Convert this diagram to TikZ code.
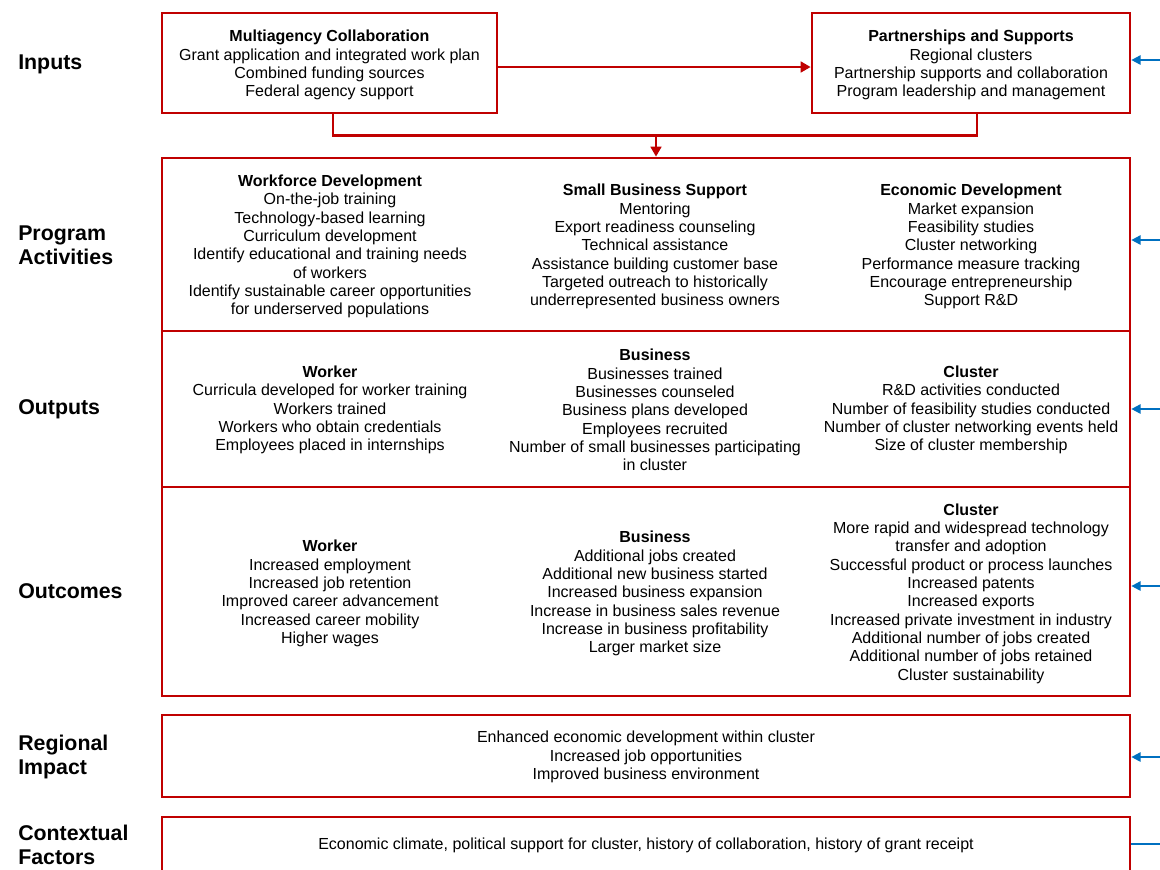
\documentclass[tikz,border=0pt]{standalone}
\usepackage{fontspec}
\setmainfont{Liberation Sans}
\usetikzlibrary{arrows.meta}
\definecolor{boxred}{RGB}{192,0,0}
\definecolor{arrblue}{RGB}{0,112,192}
\tikzset{
  box/.style={draw=boxred, line width=2pt, fill=white, inner sep=0pt},
  txt/.style={align=center, font=\fontsize{12}{13.75}\selectfont, inner sep=0pt, yshift=-1.6pt},
  lbl/.style={anchor=west, align=left, font=\fontsize{16}{18}\selectfont\bfseries, inner sep=0pt, yshift=-1.2pt},
  redarrow/.style={draw=boxred, line width=2pt, -{Triangle[length=7.5pt,width=8pt]}},
  redline/.style={draw=boxred, line width=2pt},
  bluearrow/.style={draw=arrblue, line width=1.4pt, -{Triangle[length=7pt,width=7pt]}},
  blueline/.style={draw=arrblue, line width=1.4pt}
}
\begin{document}
\begin{tikzpicture}[x=0.75pt,y=-0.75pt]
\clip (0,0) rectangle (1160,869);
\useasboundingbox (0,0) rectangle (1160,869);
\fill[white] (0,0) rectangle (1160,869);

% left labels
\node[lbl] (Linputs) at (18,63) {Inputs};
\node[lbl] (Lact) at (18,244) {Program\\Activities};
\node[lbl] (Lout) at (18,408) {Outputs};
\node[lbl] (Loutc) at (18,590) {Outcomes};
\node[lbl] (Lreg) at (18,755.5) {Regional\\Impact};
\node[lbl] (Lctx) at (18,843.5) {Contextual\\Factors};

% input boxes
\node[box, minimum width=251.25pt, minimum height=75pt] (m) at (329.5,63) {};
\node[txt] (mt) at (m.center) {\textbf{Multiagency Collaboration}\\Grant application and integrated work plan\\Combined funding sources\\Federal agency support};
\node[box, minimum width=238.5pt, minimum height=75pt] (p) at (971,63) {};
\node[txt] (pt) at (p.center) {\textbf{Partnerships and Supports}\\Regional clusters\\Partnership supports and collaboration\\Program leadership and management};

% main stacked boxes
\node[box, minimum width=726pt, minimum height=129.75pt] (act) at (646,244.5) {};
\node[box, minimum width=726pt, minimum height=117pt] (out) at (646,409) {};
\node[box, minimum width=726pt, minimum height=156.75pt] (outc) at (646,591.5) {};
\node[box, minimum width=726pt, minimum height=61.5pt] (reg) at (646,756) {};
\node[box, minimum width=726pt, minimum height=75pt] (ctx) at (646,867) {};

% activities text
\node[txt] (a1) at (330,244.5) {\textbf{Workforce Development}\\On-the-job training\\Technology-based learning\\Curriculum development\\Identify educational and training needs\\of workers\\Identify sustainable career opportunities\\for underserved populations};
\node[txt] (a2) at (655,244.5) {\textbf{Small Business Support}\\Mentoring\\Export readiness counseling\\Technical assistance\\Assistance building customer base\\Targeted outreach to historically\\underrepresented business owners};
\node[txt] (a3) at (971,244.5) {\textbf{Economic Development}\\Market expansion\\Feasibility studies\\Cluster networking\\Performance measure tracking\\Encourage entrepreneurship\\Support R\&D};

% outputs text
\node[txt] (o1) at (330,408) {\textbf{Worker}\\Curricula developed for worker training\\Workers trained\\Workers who obtain credentials\\Employees placed in internships};
\node[txt] (o2) at (655,408) {\textbf{Business}\\Businesses trained\\Businesses counseled\\Business plans developed\\Employees recruited\\Number of small businesses participating\\in cluster};
\node[txt] (o3) at (971,408) {\textbf{Cluster}\\R\&D activities conducted\\Number of feasibility studies conducted\\Number of cluster networking events held\\Size of cluster membership};

% outcomes text
\node[txt] (c1) at (330,591.5) {\textbf{Worker}\\Increased employment\\Increased job retention\\Improved career advancement\\Increased career mobility\\Higher wages};
\node[txt] (c2) at (655,591.5) {\textbf{Business}\\Additional jobs created\\Additional new business started\\Increased business expansion\\Increase in business sales revenue\\Increase in business profitability\\Larger market size};
\node[txt] (c3) at (971,591.5) {\textbf{Cluster}\\More rapid and widespread technology\\transfer and adoption\\Successful product or process launches\\Increased patents\\Increased exports\\Increased private investment in industry\\Additional number of jobs created\\Additional number of jobs retained\\Cluster sustainability};

% regional and contextual text
\node[txt] (r1) at (646,755) {Enhanced economic development within cluster\\Increased job opportunities\\Improved business environment};
\node[txt] (x1) at (646,843.5) {Economic climate, political support for cluster, history of collaboration, history of grant receipt};

% red connectors
\coordinate (jn) at (656,135.5);
\draw[redarrow] ([yshift=-3pt]m.east) -- ([yshift=-3pt]p.west);
\draw[redline] ([xshift=2.6pt]m.south) |- (jn) -| ([xshift=4.5pt]p.south);
\draw[redarrow] (jn) -- (act.north -| jn);

% blue arrows from the right
\coordinate (b1) at (1162,60);
\coordinate (b2) at (1162,240);
\coordinate (b3) at (1162,409);
\coordinate (b4) at (1162,586);
\coordinate (b5) at (1162,757);
\coordinate (b6) at (1162,844);
\draw[bluearrow] (b1) -- (b1 -| p.east);
\draw[bluearrow] (b2) -- (b2 -| act.east);
\draw[bluearrow] (b3) -- (b3 -| out.east);
\draw[bluearrow] (b4) -- (b4 -| outc.east);
\draw[bluearrow] (b5) -- (b5 -| reg.east);
\draw[blueline] (b6) -- (b6 -| ctx.east);
\end{tikzpicture}
\end{document}
